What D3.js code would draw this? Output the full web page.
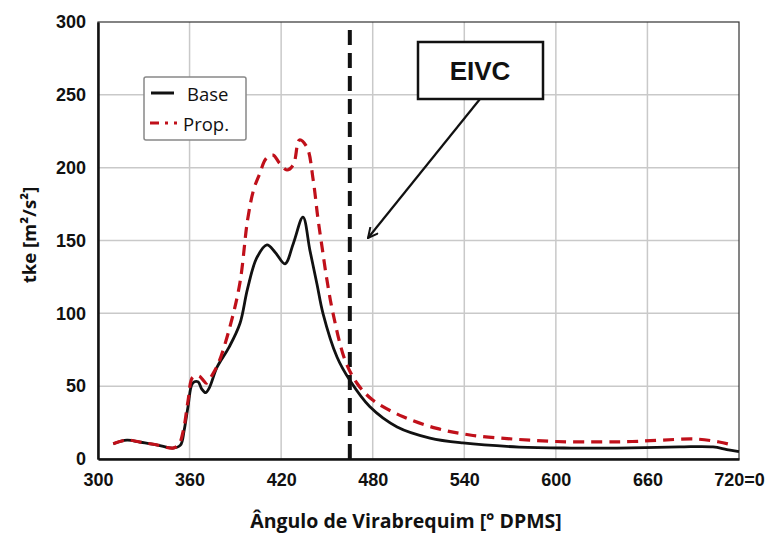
<!DOCTYPE html>
<html>
<head>
<meta charset="utf-8">
<script src="https://cdn.jsdelivr.net/npm/d3@7"></script>
<style>
  body { margin: 0; background: #fff; }
  .tick text { font-family: "Liberation Sans", Arial, sans-serif; font-weight: bold; font-size: 18px; fill: #111; }
</style>
</head>
<body>
<div id="chart"></div>
<script>
var baseAngle = [310, 319, 328, 339, 349, 354, 356.5, 359, 362, 365.5, 368, 370.5, 373, 378, 386, 393, 398, 404, 410.7, 416, 422.5, 428, 434.3, 438.9, 443.5, 447.4, 456.6, 465, 478, 496, 517.5, 539, 576, 610, 640, 681, 703, 712, 720];
var baseTke = [10.5, 13, 11.5, 9.6, 7.5, 9.5, 20, 36, 52, 53, 48, 45.5, 49, 63, 77, 93, 117, 138, 147, 142, 134, 148, 166, 143, 120, 100, 70, 54, 36, 22, 14.4, 11, 8.2, 7.5, 7.5, 8.3, 8.3, 6.5, 5];

var propAngle = [310, 319, 328, 339, 349, 353, 356, 359, 362, 366, 369, 371, 375, 379, 386.5, 393, 398, 402, 406, 410, 414.7, 419, 423.8, 428, 432, 436.9, 441, 444, 446.8, 450, 454, 461.8, 469.7, 480, 500, 522, 543.7, 572, 600, 630, 650, 670, 692, 707, 714];
var propTke = [10.5, 13, 11.5, 9.6, 7.5, 10, 20, 40, 56, 57, 54, 52, 58, 66, 91, 121, 164, 185, 196, 206, 208.6, 203, 198.4, 202, 219, 214, 191.5, 166, 145.5, 123, 100, 68, 52, 40.5, 29, 21, 16.5, 13.7, 12, 11.7, 12, 13, 13.7, 11.7, 10];

var xTicks = [300, 360, 420, 480, 540, 600, 660, 720];
var xTickLabels = ["300", "360", "420", "480", "540", "600", "660", "720=0"];
var yTicks = [0, 50, 100, 150, 200, 250, 300];
var eivcAngle = 465;

var margin = {top: 22, right: 34, bottom: 79, left: 98},
  width = 773 - margin.left - margin.right,
  height = 538 - margin.top - margin.bottom;

var svg = d3.select("#chart")
  .append("svg")
  .attr("width", 773)
  .attr("height", 538)
  .append("g")
  .attr("transform", "translate(" + margin.left + "," + margin.top + ")");

var x = d3.scaleLinear().domain([300, 720]).range([0, width]);
var y = d3.scaleLinear().domain([0, 300]).range([height, 0]);

// grid
svg.append("g")
  .selectAll("line")
  .data(xTicks.slice(1, -1))
  .enter()
  .append("line")
  .attr("x1", function(d) { return x(d); })
  .attr("x2", function(d) { return x(d); })
  .attr("y1", 0)
  .attr("y2", height)
  .attr("stroke", "#c9c9c9")
  .attr("stroke-width", 1.5);

svg.append("g")
  .selectAll("line")
  .data(yTicks.slice(1, -1))
  .enter()
  .append("line")
  .attr("x1", 0)
  .attr("x2", width)
  .attr("y1", function(d) { return y(d); })
  .attr("y2", function(d) { return y(d); })
  .attr("stroke", "#c9c9c9")
  .attr("stroke-width", 1.5);

// frame top/right
svg.append("rect")
  .attr("x", 0).attr("y", 0)
  .attr("width", width).attr("height", height)
  .attr("fill", "none")
  .attr("stroke", "#333")
  .attr("stroke-width", 1.2);

// axes
var xAxis = svg.append("g")
  .attr("transform", "translate(0," + height + ")")
  .call(d3.axisBottom(x).tickValues(xTicks).tickSize(0).tickPadding(12)
    .tickFormat(function(d, i) { return xTickLabels[i]; }));
xAxis.select(".domain").attr("stroke", "#111").attr("stroke-width", 2.5);
xAxis.selectAll(".tick text").attr("dy", "0.85em");

var yAxis = svg.append("g")
  .call(d3.axisLeft(y).tickValues(yTicks).tickSize(0).tickPadding(12));
yAxis.select(".domain").attr("stroke", "#111").attr("stroke-width", 2.5);

// EIVC vertical line
svg.append("line")
  .attr("x1", x(eivcAngle)).attr("x2", x(eivcAngle))
  .attr("y1", 8).attr("y2", height)
  .attr("stroke", "#111")
  .attr("stroke-width", 4)
  .attr("stroke-dasharray", "15,8");

var line = d3.line()
  .x(function(d) { return x(d[0]); })
  .y(function(d) { return y(d[1]); })
  .curve(d3.curveCatmullRom.alpha(0.5));

svg.append("path")
  .datum(d3.zip(baseAngle, baseTke))
  .attr("fill", "none")
  .attr("stroke", "#111")
  .attr("stroke-width", 2.8)
  .attr("d", line);

svg.append("path")
  .datum(d3.zip(propAngle, propTke))
  .attr("fill", "none")
  .attr("stroke", "#c0101a")
  .attr("stroke-width", 3.2)
  .attr("stroke-dasharray", "11,7")
  .attr("d", line);

// EIVC annotation
svg.append("defs").append("marker")
  .attr("id", "arrow")
  .attr("viewBox", "0 0 12 12")
  .attr("refX", 11).attr("refY", 6)
  .attr("markerWidth", 12).attr("markerHeight", 12)
  .attr("markerUnits", "userSpaceOnUse")
  .attr("orient", "auto")
  .append("path")
  .attr("d", "M1,1 L11,6 L1,11")
  .attr("fill", "none")
  .attr("stroke", "#111")
  .attr("stroke-width", 2);

svg.append("line")
  .attr("x1", 382).attr("y1", 77)
  .attr("x2", 270).attr("y2", 216)
  .attr("stroke", "#111")
  .attr("stroke-width", 2.2)
  .attr("marker-end", "url(#arrow)");

svg.append("rect")
  .attr("x", 320).attr("y", 20)
  .attr("width", 125).attr("height", 57)
  .attr("fill", "#fff")
  .attr("stroke", "#111")
  .attr("stroke-width", 2.5);

svg.append("text")
  .attr("x", 382).attr("y", 58)
  .attr("text-anchor", "middle")
  .style("font-family", "'Liberation Sans Narrow', 'Liberation Sans', Arial, sans-serif")
  .style("font-weight", "bold")
  .style("font-size", "26px")
  .attr("fill", "#111")
  .text("EIVC");

// legend
var legend = svg.append("g").attr("transform", "translate(46,55)");
legend.append("rect")
  .attr("width", 102).attr("height", 63)
  .attr("rx", 2)
  .attr("fill", "#fff")
  .attr("stroke", "#888")
  .attr("stroke-width", 1.5);
legend.append("line")
  .attr("x1", 7).attr("x2", 30).attr("y1", 16).attr("y2", 16)
  .attr("stroke", "#111").attr("stroke-width", 3);
legend.append("line")
  .attr("x1", 6).attr("x2", 33).attr("y1", 46).attr("y2", 46)
  .attr("stroke", "#c0101a").attr("stroke-width", 3)
  .attr("stroke-dasharray", "9,6,3,6");
var legendFont = "'Open Sans', Arial, sans-serif";
legend.append("text")
  .attr("x", 43).attr("y", 24)
  .style("font-family", legendFont).style("font-size", "18.5px")
  .attr("fill", "#111").text("Base");
legend.append("text")
  .attr("x", 39).attr("y", 54)
  .style("font-family", legendFont).style("font-size", "18.5px")
  .attr("fill", "#111").text("Prop.");

// titles
svg.append("text")
  .attr("x", 308).attr("y", height + 69)
  .attr("text-anchor", "middle")
  .style("font-family", legendFont)
  .style("font-weight", "bold")
  .style("font-size", "19.5px")
  .attr("fill", "#111")
  .text("Ângulo de Virabrequim [° DPMS]");

svg.append("text")
  .attr("transform", "rotate(-90)")
  .attr("x", -213).attr("y", -62)
  .attr("text-anchor", "middle")
  .style("font-family", legendFont)
  .style("font-weight", "bold")
  .style("font-size", "18.5px")
  .attr("fill", "#111")
  .text("tke [m²/s²]");
</script>
</body>
</html>
